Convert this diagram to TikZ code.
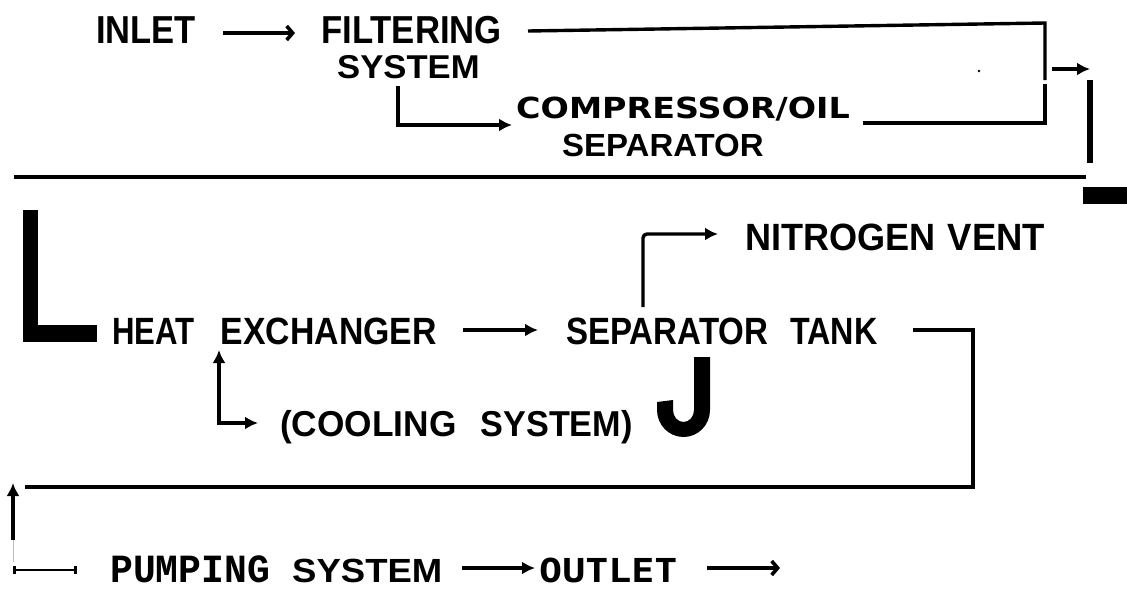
\documentclass[tikz,border=0pt]{standalone}
\usepackage{fontspec}
\usepackage{graphicx}
\usetikzlibrary{arrows.meta}
\setmainfont{Liberation Sans}
\newfontfamily\rndfont{DejaVu Sans}
\newfontfamily\courfont{Liberation Mono}
\newfontfamily\ocrfont{DejaVu Sans Mono}
\newcommand\fsz[1]{\fontsize{#1}{#1}\selectfont}
\newcommand\hsx[2]{\scalebox{#1}[1]{#2}}
\begin{document}
\begin{tikzpicture}[x=1pt,y=-1pt,
  lbl/.style={inner sep=0pt,anchor=base west,font=\bfseries},
  conn/.style={line width=3.4pt},
  tip/.style={-{Latex[length=13pt,width=13pt]}},
  chev/.style={-{Straight Barb[length=6pt,width=14pt,line width=3.6pt]}}]
\useasboundingbox (0,0) rectangle (1127,590);
% ---- labels
\node[lbl] (inlet) at (96,43) {\fsz{39}\hsx{0.885}{INLET}};
\node[lbl] (filt) at (321,43) {\fsz{39}\hsx{0.89}{FILTERING}};
\node[lbl] (fsys) at (337,78) {\fsz{33}\hsx{1.05}{SYSTEM}};
\node[lbl] (comp) at (516,118) {\rndfont\fsz{29}\hsx{1.15}{COMPRESSOR/OIL}};
\node[lbl] (osep) at (562,156) {\fsz{32}\hsx{1.03}{SEPARATOR}};
\node[lbl] (heat) at (112,344) {\fsz{38}\hsx{0.82}{HEAT}\hspace{26pt}\hsx{0.89}{EXCHANGER}};
\node[lbl] (tank) at (566,344) {\fsz{38}\hsx{0.87}{SEPARATOR}\hspace{22pt}\hsx{0.85}{TANK}};
\node[lbl] (vent) at (745,250) {\fsz{38}\hsx{0.95}{NITROGEN}\hspace{12pt}\hsx{0.96}{VENT}};
\node[lbl] (cool) at (280,436) {\fsz{36}\hsx{0.98}{(COOLING}\hspace{24pt}\hsx{0.95}{SYSTEM)}};
\node[lbl] (pump) at (110,582) {\courfont\fsz{40}\hsx{0.95}{PUMPING}};
\node[lbl] (psys) at (292,582) {\fsz{33.5}\hsx{1.09}{SYSTEM}};
\node[lbl] (outlet) at (539,582) {\ocrfont\fsz{33}\hsx{1.16}{OUTLET}};
% ---- coordinates
\coordinate (a1s) at (223,33); \coordinate (a1e) at (295,33);
\coordinate (f1) at (528,31); \coordinate (c1) at (1045,23); \coordinate (c2) at (1045,80);
\coordinate (c3) at (1045,84); \coordinate (c4) at (1045,123); \coordinate (o1) at (863,123);
\coordinate (r1) at (1052,69); \coordinate (r2) at (1090,69);
\coordinate (v1) at (1090,80); \coordinate (v2) at (1090,163);
\coordinate (s1) at (398,86); \coordinate (s2) at (512,125);
\coordinate (h1) at (463,330); \coordinate (h2) at (538,330);
\coordinate (k1) at (219,350); \coordinate (k2) at (258,423);
\coordinate (n1) at (643,307); \coordinate (n2) at (718,234);
\coordinate (t1) at (913,330); \coordinate (t2) at (973,330); \coordinate (t3) at (973,487); \coordinate (t4) at (25,487);
\coordinate (u1) at (13,540); \coordinate (u2) at (13,483); \coordinate (u3) at (13,562);
\coordinate (b1) at (13,570); \coordinate (b2) at (77,570);
\coordinate (p1) at (462,568); \coordinate (p2) at (535,568);
\coordinate (q1) at (707,568); \coordinate (q2) at (780,568);
% ---- connectors
\draw[conn,chev] (a1s) -- (a1e);
\draw[conn] (f1) -- (c1) -- (c2);
\draw[conn] (o1) -- (c4) -- (c3);
\draw[conn,tip] (r1) -- (r2);
\draw[line width=5.5pt] (v1) -- (v2);
\fill (1083,187) rectangle (1127,204);
\fill (979,71) circle (1.3pt);
\draw[line width=3.5pt] (14,177) -- (1086,177);
\draw[conn,tip] (s1) |- (s2);
% big L
\fill (23,210) rectangle (38,342);
\fill (23,325) rectangle (97,342);
% big J
\fill (694,357) -- (710,357) -- (710,410) arc[start angle=0,end angle=180,x radius=26.5,y radius=27] -- (657,402) -- (673,400) -- (673,410) arc[start angle=180,end angle=0,x radius=10.5,y radius=12] -- cycle;
\draw[conn,tip] (h1) -- (h2);
\draw[conn,{Latex[length=13pt,width=13pt]}-{Latex[length=13pt,width=13pt]}] (k1) |- (k2);
\draw[conn,tip,rounded corners=4pt] (n1) |- (n2);
\draw[conn] (t1) -- (t2) -- (t3) -- (t4);
\draw[conn,tip] (u1) -- (u2);
\draw[black!25,line width=1pt] (u1) -- (u3);
\draw[line width=2.6pt,{Bar[width=8pt]}-{Bar[width=8pt]}] (b1) -- (b2);
\draw[conn,tip] (p1) -- (p2);
\draw[conn,chev] (q1) -- (q2);
\end{tikzpicture}
\end{document}
